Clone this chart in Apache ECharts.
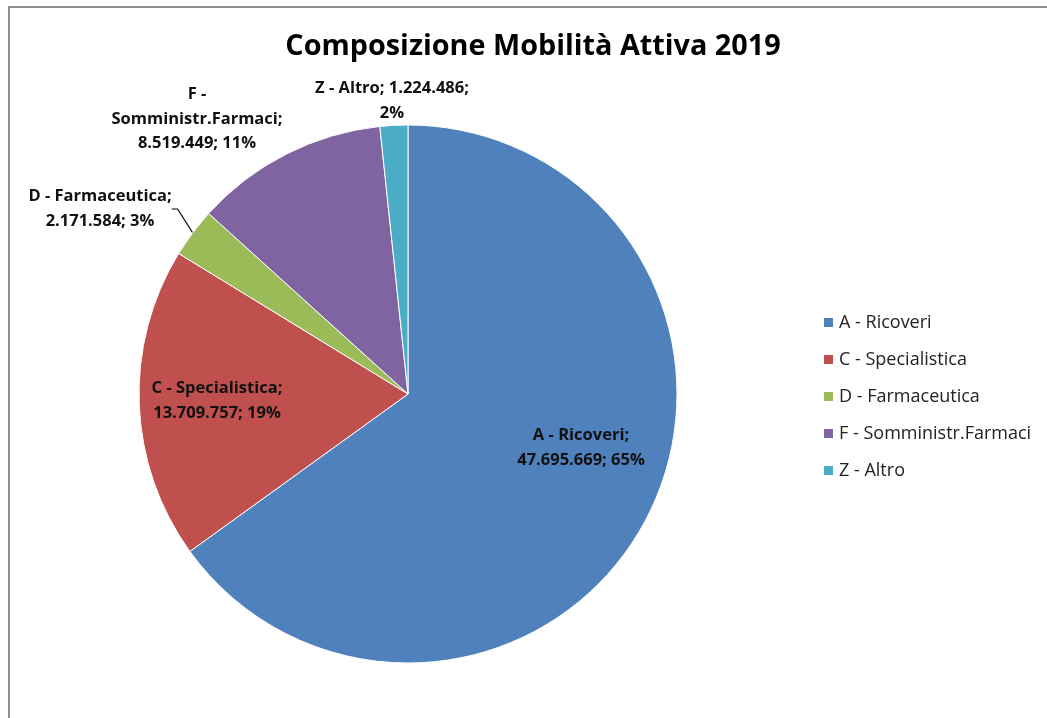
<!DOCTYPE html>
<html>
<head>
<meta charset="utf-8">
<script src="https://cdn.jsdelivr.net/npm/echarts@6/dist/echarts.min.js"></script>
<style>
  html, body { margin: 0; padding: 0; background: #fff; }
  #frame { position: absolute; left: 8px; top: 6px; width: 1100px; height: 800px;
           border-left: 2px solid #8e8e8e; border-top: 2px solid #8e8e8e; box-sizing: border-box; }
  #chart { position: absolute; left: 0; top: 0; width: 1047px; height: 718px; }
</style>
</head>
<body>
<div id="frame"></div>
<div id="chart"></div>
<script>
const titleText = 'Composizione Mobilità Attiva 2019';
const categories = ['A - Ricoveri', 'C - Specialistica', 'D - Farmaceutica', 'F - Somministr.Farmaci', 'Z - Altro'];
const values = [47695669, 13709757, 2171584, 8519449, 1224486];
const colors = ['#4F81BD', '#C0504D', '#9BBB59', '#8064A2', '#4BACC6'];

// how each data label wraps (separators between "name;", "value;" and "pct%")
const labelSeparators = [
  ['\n', ' '],
  ['\n', ' '],
  ['\n', ' '],
  ['\n', '\n', ' '], // F label: "F -" / "Somministr.Farmaci;" / ...
  [' ', '\n']
];
// label centre offsets relative to the pie centre (pixels)
const labelOffsets = [[173, 54], [-191, 7], [-308, -185], [-211, -275], [-16, -293]];

const pieCenter = [408, 394];
const pieRadius = 269;

function fmtNum(v) {
  return String(v).replace(/\B(?=(\d{3})+(?!\d))/g, '.');
}

const chart = echarts.init(document.getElementById('chart'), null, { renderer: 'canvas' });

const data = categories.map((c, i) => ({
  name: c,
  value: values[i],
  itemStyle: { color: colors[i] },
  labelLine: { show: i === 2 }
}));

chart.setOption({
  animation: false,
  textStyle: { fontFamily: '"Open Sans", sans-serif' },
  title: {
    text: titleText,
    left: 528,
    textAlign: 'center',
    top: 27,
    textStyle: { fontSize: 28.8, fontWeight: 'bold', color: '#000', fontFamily: '"Open Sans", sans-serif' }
  },
  legend: {
    orient: 'vertical',
    left: 822,
    top: 310,
    padding: 0,
    itemWidth: 11,
    itemHeight: 11,
    itemGap: 12,
    icon: 'rect',
    data: categories,
    textStyle: { fontSize: 18, color: '#222', fontFamily: '"Open Sans", sans-serif', lineHeight: 25 }
  },
  series: [{
    type: 'pie',
    center: pieCenter,
    radius: pieRadius,
    startAngle: 90,
    clockwise: true,
    percentPrecision: 0,
    avoidLabelOverlap: false,
    itemStyle: { borderColor: '#fff', borderWidth: 1 },
    emphasis: { disabled: true },
    label: {
      show: true,
      position: 'outside',
      color: '#111',
      fontSize: 16.5,
      fontWeight: 'bold',
      fontFamily: '"Open Sans", sans-serif',
      lineHeight: 24.5,
      align: 'center',
      formatter: function (p) {
        const i = p.dataIndex;
        const sep = labelSeparators[i];
        let parts;
        if (sep.length === 3) {
          const nm = p.name.split(' - ');
          parts = [nm[0] + ' -', nm[1] + ';', fmtNum(p.value) + ';', p.percent + '%'];
        } else {
          parts = [p.name + ';', fmtNum(p.value) + ';', p.percent + '%'];
        }
        let s = parts[0];
        for (let k = 1; k < parts.length; k++) s += sep[k - 1] + parts[k];
        return s;
      }
    },
    labelLine: { show: false, lineStyle: { color: '#000', width: 1.2 }, length: 12, length2: 6 },
    labelLayout: function (params) {
      const o = labelOffsets[params.dataIndex];
      return {
        x: pieCenter[0] + o[0],
        y: pieCenter[1] + o[1],
        align: 'center',
        verticalAlign: 'middle'
      };
    },
    data: data
  }]
});
</script>
</body>
</html>
